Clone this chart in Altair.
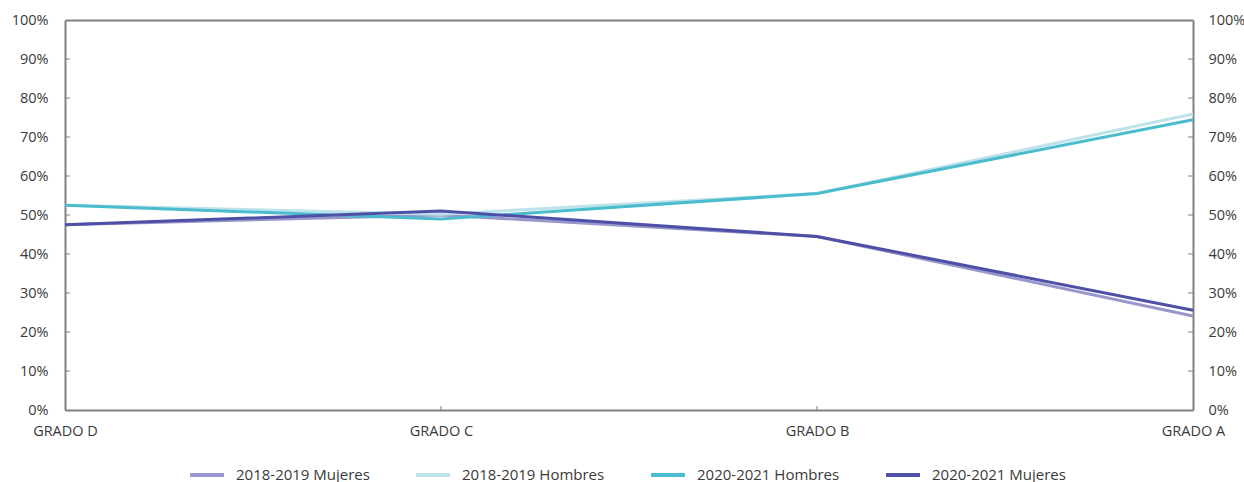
import altair as alt
import pandas as pd

grados = ["GRADO D", "GRADO C", "GRADO B", "GRADO A"]
series = ["2018-2019 Mujeres", "2018-2019 Hombres", "2020-2021 Hombres", "2020-2021 Mujeres"]
colors = ["#9896cc", "#bde2ea", "#4bbccd", "#4e50a6"]

mujeres_1819 = [47.5, 50.0, 44.5, 24.1]
hombres_1819 = [52.5, 50.2, 55.5, 75.9]
hombres_2021 = [52.5, 49.0, 55.5, 74.4]
mujeres_2021 = [47.5, 51.0, 44.5, 25.6]

values = [mujeres_1819, hombres_1819, hombres_2021, mujeres_2021]
rows = []
for s, vals in zip(series, values):
    for g, v in zip(grados, vals):
        rows.append({"grado": g, "serie": s, "valor": v / 100})
df = pd.DataFrame(rows)

tick_vals = [i / 10 for i in range(0, 11)]
ticks_df = pd.DataFrame({"t": tick_vals[1:-1]})

FONT = "Open Sans"
GRAY = "#808080"
TXT = "#3a3a3a"

x_scale = alt.Scale(type="point", padding=0, domain=grados)
y_scale = alt.Scale(domain=[0, 1], nice=False)

lines = alt.Chart(df).mark_line(strokeWidth=3).encode(
    x=alt.X("grado:N", sort=grados, scale=x_scale,
            axis=alt.Axis(title=None, labelAngle=0, labelFontSize=14.5, labelColor=TXT,
                          labelFont=FONT, labelPadding=14, ticks=False, domain=True,
                          domainColor=GRAY, domainWidth=2, grid=False)),
    y=alt.Y("valor:Q", scale=y_scale,
            axis=alt.Axis(title=None, format=".0%", values=tick_vals, orient="left",
                          labelFontSize=14.5, labelColor=TXT, labelFont=FONT,
                          labelPadding=17, ticks=False, domain=True, domainColor=GRAY,
                          domainWidth=2, grid=False)),
    color=alt.Color("serie:N", sort=series,
                    scale=alt.Scale(domain=series, range=colors),
                    legend=alt.Legend(title=None, orient="none", direction="horizontal",
                                      legendX=123, legendY=436,
                                      symbolType="stroke", symbolStrokeWidth=4,
                                      symbolSize=1150, labelFontSize=15, labelFont=FONT,
                                      labelColor=TXT, columnPadding=38, labelOffset=10)),
    detail="serie:N",
)

right_axis = alt.Chart(ticks_df).mark_rule(opacity=0).encode(
    y=alt.Y("t:Q", scale=y_scale,
            axis=alt.Axis(title=None, format=".0%", values=tick_vals, orient="right",
                          labelFontSize=14.5, labelColor=TXT, labelFont=FONT,
                          labelPadding=15, ticks=False, domain=True, domainColor=GRAY,
                          domainWidth=2, grid=False)),
)

# inward tick marks on the axes
left_ticks = alt.Chart(ticks_df).mark_rule(color=GRAY, strokeWidth=1).encode(
    y=alt.Y("t:Q", scale=y_scale, axis=None), x=alt.value(0), x2=alt.value(5))
right_ticks = alt.Chart(ticks_df).mark_rule(color=GRAY, strokeWidth=1).encode(
    y=alt.Y("t:Q", scale=y_scale, axis=None), x=alt.value(1123), x2=alt.value(1128))
# x ticks; this layer's top axis supplies the upper frame line
x_ticks = alt.Chart(pd.DataFrame({"grado": grados[1:3]})).mark_rule(color=GRAY, strokeWidth=1).encode(
    x=alt.X("grado:N", sort=grados, scale=x_scale,
            axis=alt.Axis(title=None, orient="top", labels=False, ticks=False, domain=True,
                          domainColor=GRAY, domainWidth=2, grid=False)),
    y=alt.value(386), y2=alt.value(390))

chart = alt.layer(lines, right_axis, left_ticks, right_ticks, x_ticks).resolve_axis(
    y="independent", x="independent"
).properties(
    width=1128, height=390,
    autosize=alt.AutoSizeParams(type="none"),
    padding={"left": 65, "top": 20, "right": 51, "bottom": 72},
).configure_view(
    stroke=None
).configure(font=FONT)

chart.save("out.html", embed_options={"renderer": "svg", "actions": False})
